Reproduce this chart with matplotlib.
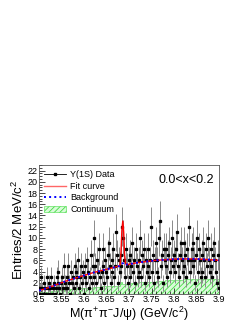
import matplotlib
matplotlib.use('Agg')
import matplotlib.pyplot as plt
import numpy as np
from matplotlib.patches import Patch
from matplotlib.lines import Line2D
from matplotlib.ticker import MultipleLocator

plt.rcParams['font.family'] = ['Liberation Sans', 'DejaVu Sans']
plt.rcParams['mathtext.fontset'] = 'custom'
plt.rcParams['mathtext.rm'] = 'Liberation Sans'
plt.rcParams['mathtext.it'] = 'Liberation Sans'
plt.rcParams['hatch.linewidth'] = 0.6

# data: 2 MeV bins from 3.50 to 3.90 GeV
counts = [1, 0, 3, 1, 0, 2, 1, 0, 3, 1,
          0, 2, 1, 3, 0, 1, 2, 0, 1, 3,
          2, 4, 1, 0, 2, 3, 1, 5, 2, 1,
          3, 1, 5, 2, 0, 4, 2, 3, 1, 5,
          2, 4, 3, 6, 1, 3, 5, 2, 4, 0,
          3, 5, 2, 6, 4, 1, 3, 7, 2, 5,
          10, 3, 5, 2, 6, 4, 8, 3, 1, 4,
          5, 8, 2, 6, 4, 3, 7, 9, 5, 2,
          6, 4, 8, 3, 5, 11, 7, 2, 6, 4,
          5, 7, 12, 10, 6, 3, 8, 5, 2, 6,
          7, 3, 5, 9, 4, 6, 2, 8, 5, 3,
          6, 4, 10, 3, 7, 5, 8, 2, 6, 4,
          5, 8, 3, 6, 12, 4, 7, 2, 6, 9,
          4, 6, 3, 10, 13, 5, 7, 2, 8, 6,
          8, 5, 3, 7, 9, 4, 6, 10, 5, 7,
          6, 4, 8, 11, 5, 3, 7, 9, 6, 4,
          9, 5, 7, 3, 8, 6, 12, 4, 6, 8,
          5, 9, 6, 2, 7, 10, 4, 8, 6, 3,
          7, 4, 9, 6, 3, 8, 5, 10, 6, 4,
          8, 5, 3, 7, 9, 6, 4, 2, 7, 1]
bin_edges = np.linspace(3.5, 3.9, len(counts) + 1)

# curves
bg_x = [3.50, 3.52, 3.54, 3.56, 3.58, 3.60, 3.62, 3.64, 3.66, 3.68, 3.684, 3.686, 3.688,
        3.70, 3.72, 3.74, 3.76, 3.78, 3.80, 3.82, 3.84, 3.86, 3.88, 3.90]
bg_y = [0.6, 1.1, 1.7, 2.3, 2.8, 3.3, 3.8, 4.2, 4.6, 5.0, 5.3, 5.5, 5.2,
        5.3, 5.6, 5.8, 6.0, 6.1, 6.2, 6.25, 6.25, 6.2, 6.1, 6.0]
fit_x = [3.50, 3.52, 3.54, 3.56, 3.58, 3.60, 3.62, 3.64, 3.66, 3.678, 3.680, 3.682, 3.684,
         3.686, 3.688, 3.690, 3.692, 3.694, 3.70, 3.72, 3.74, 3.76, 3.78, 3.80, 3.82,
         3.84, 3.86, 3.88, 3.90]
fit_y = [0.6, 1.1, 1.7, 2.3, 2.8, 3.3, 3.8, 4.2, 4.6, 5.0, 5.2, 7.5, 11.5,
         13.0, 11.0, 7.0, 5.5, 5.2, 5.3, 5.6, 5.8, 6.0, 6.1, 6.2, 6.25,
         6.25, 6.2, 6.1, 6.0]
cont_edges = [3.50, 3.52, 3.54, 3.56, 3.58, 3.60, 3.62, 3.64, 3.66, 3.68, 3.684, 3.690,
              3.70, 3.72, 3.74, 3.76, 3.78, 3.80, 3.82, 3.84, 3.86, 3.88, 3.90]
cont_vals = [0.3, 0.5, 0.7, 0.9, 1.0, 1.1, 1.3, 1.4, 1.5, 2.2, 1.7,
             1.8, 1.9, 2.1, 2.2, 2.3, 2.4, 2.5, 2.6, 2.6, 2.7, 2.7]

fig = plt.figure(figsize=(2.49, 3.23), dpi=100)
ax = fig.add_axes([0.157, 0.090, 0.723, 0.399])

ax.stairs(cont_vals, cont_edges, fill=True, facecolor='#d9fbd9', edgecolor='#44dd44',
          hatch='//////', linewidth=0.4)

centers = 0.5 * (bin_edges[:-1] + bin_edges[1:])
c = np.array(counts)
ax.errorbar(centers, c, yerr=np.sqrt(c), xerr=0.001, fmt='s', color='black',
            ecolor='#8a8a8a', elinewidth=0.7, markersize=1.4, capsize=0, zorder=3)

ax.plot(fit_x, fit_y, color='red', linewidth=1.0, zorder=4)
ax.plot(bg_x, bg_y, color='blue', linestyle=':', linewidth=1.4, zorder=5)

ax.set_xlim(3.5, 3.9)
ax.set_ylim(0, 23)
ax.xaxis.set_minor_locator(MultipleLocator(0.01))
ax.yaxis.set_major_locator(MultipleLocator(2))
ax.yaxis.set_minor_locator(MultipleLocator(0.5))
ax.set_xticks([3.5, 3.55, 3.6, 3.65, 3.7, 3.75, 3.8, 3.85, 3.9])
ax.set_xticklabels(['3.5', '3.55', '3.6', '3.65', '3.7', '3.75', '3.8', '3.85', '3.9'])
ax.tick_params(which='both', direction='in', labelsize=6.5, width=0.5, pad=1)
ax.tick_params(which='major', length=4)
ax.tick_params(which='minor', length=2)
for s in ax.spines.values():
    s.set_linewidth(0.6)
    s.set_color('#555555')

ax.set_xlabel(r'M($\pi^{+}\pi^{-}$J/$\psi$) (GeV/c$^{2}$)', fontsize=9, labelpad=0)
ax.set_ylabel(r'Entries/2 MeV/c$^{2}$', fontsize=9.5, labelpad=1)

ax.text(0.97, 0.93, '0.0<x<0.2', transform=ax.transAxes, ha='right', va='top', fontsize=9)

handles = [
    Line2D([0], [0], color='black', marker='s', markersize=1.5, linewidth=0.6),
    Line2D([0], [0], color='#ff6666', linewidth=1.0),
    Line2D([0], [0], color='blue', linestyle=':', linewidth=1.4),
    Patch(facecolor='#d9fbd9', edgecolor='#44dd44', hatch='//////', linewidth=0.4),
]
labels = ['\u03a5(1S) Data', 'Fit curve', 'Background', 'Continuum']
ax.legend(handles, labels, loc='upper left', fontsize=6.5, frameon=False,
          handlelength=2.4, borderaxespad=0.15, labelspacing=0.3, handletextpad=0.5)

fig.savefig('out.png', dpi=100)
